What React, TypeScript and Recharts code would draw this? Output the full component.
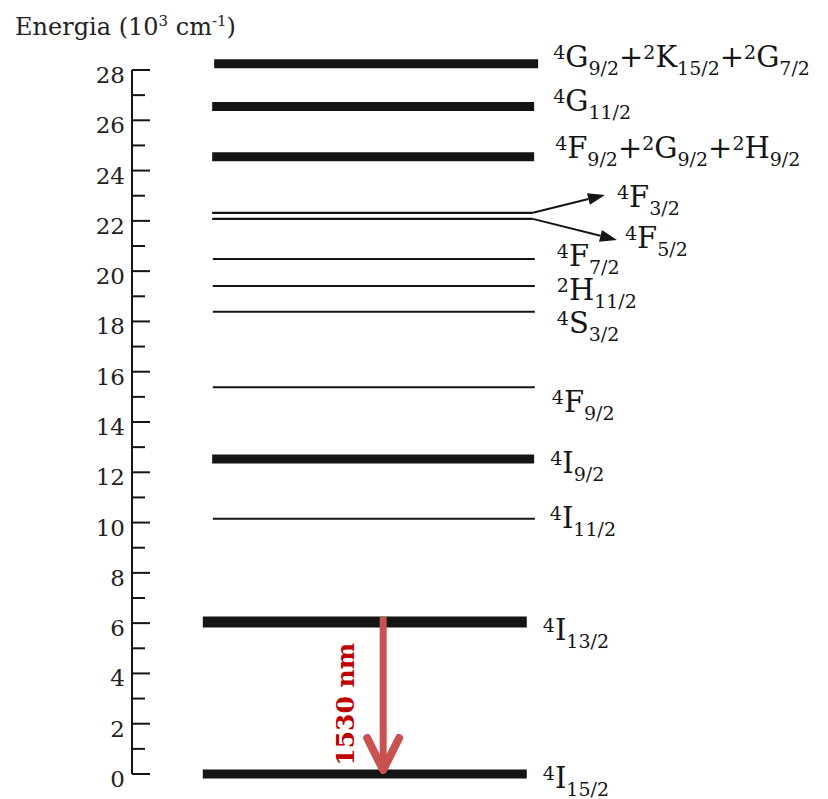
import React from 'react';
import { ComposedChart, XAxis, YAxis, ReferenceLine, ReferenceDot } from 'recharts';

const FONT = '"DejaVu Serif", "Liberation Serif", serif';
const INK = '#151515';

// Er3+ manifold energies, in 10^3 cm^-1 (lowest to highest)
const levelEnergies = [0, 6.05, 10.15, 12.53, 15.38, 18.38, 19.41, 20.48, 22.08, 22.32, 24.55, 26.55, 28.25];

// Term symbols of each manifold: [2S+1, L, J]
type Term = [string, string, string];
const levelTerms: Term[][] = [
  [['4', 'I', '15/2']],
  [['4', 'I', '13/2']],
  [['4', 'I', '11/2']],
  [['4', 'I', '9/2']],
  [['4', 'F', '9/2']],
  [['4', 'S', '3/2']],
  [['2', 'H', '11/2']],
  [['4', 'F', '7/2']],
  [['4', 'F', '5/2']],
  [['4', 'F', '3/2']],
  [['4', 'F', '9/2'], ['2', 'G', '9/2'], ['2', 'H', '9/2']],
  [['4', 'G', '11/2']],
  [['4', 'G', '9/2'], ['2', 'K', '15/2'], ['2', 'G', '7/2']],
];

// Axis ticks: every unit, labelled on even values
const energyTicks = [0, 1, 2, 3, 4, 5, 6, 7, 8, 9, 10, 11, 12, 13, 14, 15, 16, 17, 18, 19, 20, 21, 22, 23, 24, 25, 26, 27, 28];

// Emission between the two lowest manifolds
const emissionFrom = 6.05;
const emissionTo = 0;
const emissionLabel = '1530 nm';

// Drawing layout for each level (horizontal span in diagram units, bar weight, label offset in px)
const levelLayout = [
  { x0: 10.6, x1: 59.1, w: 9, dx: 16, dy: 14 },
  { x0: 10.6, x1: 59.1, w: 11, dx: 16, dy: 18 },
  { x0: 12.1, x1: 60.3, w: 2, dx: 15, dy: 9 },
  { x0: 12.0, x1: 60.2, w: 9, dx: 16, dy: 14 },
  { x0: 12.1, x1: 60.3, w: 2, dx: 17, dy: 25 },
  { x0: 12.1, x1: 60.3, w: 2, dx: 22, dy: 21 },
  { x0: 12.1, x1: 60.3, w: 2, dx: 22, dy: 14 },
  { x0: 12.1, x1: 60.3, w: 2, dx: 22, dy: 7 },
  { x0: 12.0, x1: 60.0, w: 2.2, dx: 0, dy: 0 },
  { x0: 12.0, x1: 60.0, w: 2.2, dx: 0, dy: 0 },
  { x0: 12.0, x1: 60.2, w: 9, dx: 21, dy: 1 },
  { x0: 12.0, x1: 60.2, w: 9, dx: 19, dy: 5 },
  { x0: 12.3, x1: 60.8, w: 9, dx: 15, dy: 3 },
];

// Pointer arrows that fan out the closely spaced 4F5/2 / 4F3/2 pair
const fanArrows = [
  { level: 9, tipX: 70.8, tipE: 23.03, dx: 12, dy: 12 },
  { level: 8, tipX: 72.6, tipE: 21.24, dx: 8, dy: 8 },
];
const emissionX = 37.6;
const emissionLabelX = 31.9;

const MAIN = 29;
const SMALL = 19;

function TermText({ x, y, terms }: { x: number; y: number; terms: Term[] }) {
  const parts: React.ReactNode[] = [];
  let shift = 0;
  const move = (to: number) => {
    const d = to - shift;
    shift = to;
    return d;
  };
  terms.forEach(([m, L, J], i) => {
    if (i > 0) {
      parts.push(
        <tspan key={`p${i}`} fontSize={MAIN} dy={move(0)}>
          +
        </tspan>
      );
    }
    parts.push(
      <tspan key={`m${i}`} fontSize={SMALL} dy={move(-8)}>
        {m}
      </tspan>
    );
    parts.push(
      <tspan key={`l${i}`} fontSize={MAIN} dy={move(0)}>
        {L}
      </tspan>
    );
    parts.push(
      <tspan key={`j${i}`} fontSize={SMALL} dy={move(8)}>
        {J}
      </tspan>
    );
  });
  return (
    <text x={x} y={y} fontFamily={FONT} fill={INK}>
      {parts}
    </text>
  );
}

const EnergyTick = (props: any) => {
  const { x, y, payload } = props;
  const v = payload.value as number;
  const major = v % 2 === 0;
  return (
    <g>
      <line x1={x + 7} x2={x + 7 + (major ? 18 : 13)} y1={y} y2={y} stroke={INK} strokeWidth={2} />
      {major && (
        <text x={x} y={y + 13} textAnchor="end" fontFamily={FONT} fontSize={23} fill="#222">
          {v}
        </text>
      )}
    </g>
  );
};

const renderTitle = (props: any) => {
  const vb = props.viewBox || { x: 0, y: 70 };
  return (
    <text x={vb.x + 15} y={vb.y - 35} fontFamily={FONT} fontSize={24} fill="#222">
      Energia (10
      <tspan fontSize={15} dy={-9}>
        3
      </tspan>
      <tspan dy={9}> cm</tspan>
      <tspan fontSize={15} dy={-9}>
        -1
      </tspan>
      <tspan dy={9}>)</tspan>
    </text>
  );
};

const FanArrowShape = (props: any) => {
  const { x1, y1, x2, y2 } = props;
  const ang = Math.atan2(y2 - y1, x2 - x1);
  const len = 17;
  const half = 6;
  const bx = x2 - len * Math.cos(ang);
  const by = y2 - len * Math.sin(ang);
  const px = -Math.sin(ang) * half;
  const py = Math.cos(ang) * half;
  return (
    <g>
      <line x1={x1} y1={y1} x2={bx} y2={by} stroke={INK} strokeWidth={2} />
      <path d={`M${x2},${y2} L${bx + px},${by + py} L${bx - px},${by - py} Z`} fill={INK} />
    </g>
  );
};

const EmissionShape = (props: any) => {
  const { x1, y1, y2 } = props;
  const tip = y2;
  return (
    <g>
      <line x1={x1} y1={y1 - 5} x2={x1} y2={tip - 8} stroke="#c9514f" strokeWidth={7} />
      <path
        d={`M${x1 - 16},${tip - 36} L${x1},${tip - 4} L${x1 + 16},${tip - 36}`}
        fill="none"
        stroke="#c9514f"
        strokeWidth={8}
        strokeLinejoin="round"
        strokeLinecap="round"
      />
    </g>
  );
};

export default function App() {
  const labelE = (emissionFrom + emissionTo) / 2 - 0.25;
  return (
    <div style={{ position: 'absolute', left: 0, top: 0, background: '#fff' }}>
      <ComposedChart width={828} height={799} margin={{ top: 70, right: 28, bottom: 25, left: 0 }}>
        <XAxis type="number" dataKey="x" domain={[0, 100]} allowDataOverflow hide />
        <YAxis
          type="number"
          domain={[0, 28]}
          allowDataOverflow
          ticks={energyTicks}
          interval={0}
          width={132}
          tickSize={0}
          tickMargin={7}
          tickLine={false}
          axisLine={{ stroke: INK, strokeWidth: 2 }}
          tick={EnergyTick}
          label={renderTitle}
        />
        {levelEnergies.map((e, i) => (
          <ReferenceLine
            key={`lv${i}`}
            segment={[
              { x: levelLayout[i].x0, y: e },
              { x: levelLayout[i].x1, y: e },
            ]}
            stroke={INK}
            strokeWidth={levelLayout[i].w}
            ifOverflow="visible"
          />
        ))}
        {levelEnergies.map((e, i) =>
          fanArrows.some((f) => f.level === i) ? null : (
            <ReferenceDot
              key={`lb${i}`}
              x={levelLayout[i].x1}
              y={e}
              r={0}
              ifOverflow="visible"
              shape={(p: any) => (
                <TermText x={p.cx + levelLayout[i].dx} y={p.cy + levelLayout[i].dy} terms={levelTerms[i]} />
              )}
            />
          )
        )}
        {fanArrows.map((f, k) => (
          <ReferenceLine
            key={`fa${k}`}
            segment={[
              { x: levelLayout[f.level].x1, y: levelEnergies[f.level] },
              { x: f.tipX, y: f.tipE },
            ]}
            ifOverflow="visible"
            shape={FanArrowShape}
          />
        ))}
        {fanArrows.map((f, k) => (
          <ReferenceDot
            key={`fl${k}`}
            x={f.tipX}
            y={f.tipE}
            r={0}
            ifOverflow="visible"
            shape={(p: any) => <TermText x={p.cx + f.dx} y={p.cy + f.dy} terms={levelTerms[f.level]} />}
          />
        ))}
        <ReferenceLine
          segment={[
            { x: emissionX, y: emissionFrom },
            { x: emissionX, y: emissionTo },
          ]}
          ifOverflow="visible"
          shape={EmissionShape}
        />
        <ReferenceDot
          x={emissionLabelX}
          y={labelE}
          r={0}
          ifOverflow="visible"
          shape={(p: any) => (
            <text
              x={p.cx}
              y={p.cy}
              transform={`rotate(-90 ${p.cx} ${p.cy})`}
              textAnchor="middle"
              dominantBaseline="central"
              fontFamily={FONT}
              fontWeight="bold"
              fontSize={25}
              fill="#c00000"
            >
              {emissionLabel}
            </text>
          )}
        />
      </ComposedChart>
    </div>
  );
}
